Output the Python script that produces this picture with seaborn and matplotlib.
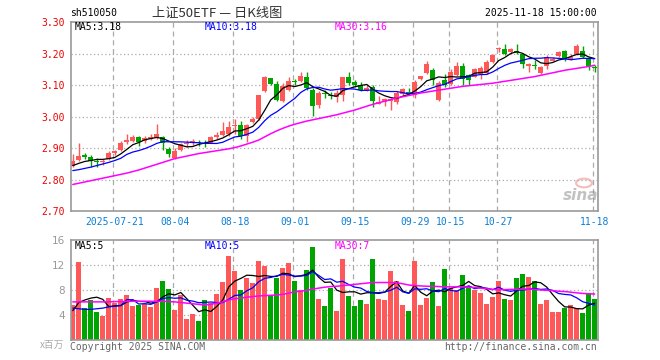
import matplotlib
matplotlib.use("Agg")
import matplotlib.pyplot as plt
import numpy as np
import pandas as pd
import seaborn as sns

# trading days 2025-07-10 .. 2025-11-18 (National Day holiday removed)
days = pd.bdate_range("2025-07-10", "2025-11-18")
days = days[~((days >= "2025-10-01") & (days <= "2025-10-08"))]

open_ = [2.843, 2.864, 2.877, 2.872, 2.860, 2.856, 2.867, 2.885, 2.895, 2.919,
         2.924, 2.935, 2.923, 2.929, 2.932, 2.937, 2.897, 2.868, 2.893, 2.912,
         2.918, 2.921, 2.918, 2.918, 2.935, 2.943, 2.946, 2.969, 2.972, 2.938,
         2.982, 2.993, 3.081, 3.121, 3.102, 3.050, 3.083, 3.113, 3.113, 3.127,
         3.085, 3.038, 3.075, 3.068, 3.062, 3.068, 3.125, 3.109, 3.099, 3.083,
         3.094, 3.041, 3.047, 3.050, 3.045, 3.073, 3.078, 3.069, 3.120, 3.139,
         3.148, 3.053, 3.117, 3.105, 3.133, 3.160, 3.132, 3.127, 3.135, 3.138,
         3.174, 3.214, 3.216, 3.205, 3.208, 3.198, 3.159, 3.165, 3.138, 3.161,
         3.177, 3.193, 3.208, 3.182, 3.198, 3.208, 3.185, 3.158]
high = [2.881, 2.918, 2.884, 2.879, 2.869, 2.866, 2.891, 2.895, 2.922, 2.945,
        2.943, 2.940, 2.940, 2.945, 2.976, 2.940, 2.905, 2.900, 2.918, 2.926,
        2.930, 2.926, 2.925, 2.940, 2.950, 2.984, 2.986, 2.993, 2.985, 2.978,
        3.000, 3.070, 3.130, 3.122, 3.113, 3.108, 3.125, 3.120, 3.143, 3.140,
        3.090, 3.080, 3.085, 3.078, 3.086, 3.127, 3.140, 3.115, 3.110, 3.100,
        3.100, 3.066, 3.060, 3.060, 3.080, 3.090, 3.090, 3.115, 3.130, 3.175,
        3.155, 3.112, 3.135, 3.150, 3.172, 3.170, 3.135, 3.155, 3.160, 3.180,
        3.200, 3.220, 3.230, 3.218, 3.230, 3.200, 3.170, 3.180, 3.160, 3.195,
        3.190, 3.207, 3.210, 3.200, 3.230, 3.225, 3.190, 3.165]
low = [2.840, 2.858, 2.867, 2.840, 2.840, 2.846, 2.862, 2.880, 2.891, 2.912,
       2.920, 2.908, 2.916, 2.925, 2.930, 2.895, 2.873, 2.866, 2.890, 2.905,
       2.910, 2.908, 2.905, 2.915, 2.930, 2.940, 2.940, 2.946, 2.930, 2.920,
       2.980, 2.990, 3.078, 3.100, 3.050, 3.045, 3.080, 3.100, 3.110, 3.085,
       3.002, 3.028, 3.060, 3.055, 3.045, 3.050, 3.100, 3.095, 3.080, 3.080,
       3.030, 3.040, 3.035, 3.022, 3.040, 3.070, 3.070, 3.060, 3.115, 3.134,
       3.100, 3.050, 3.095, 3.100, 3.130, 3.100, 3.100, 3.125, 3.120, 3.135,
       3.170, 3.205, 3.195, 3.200, 3.200, 3.155, 3.140, 3.150, 3.135, 3.150,
       3.175, 3.190, 3.175, 3.180, 3.195, 3.185, 3.148, 3.140]
close = [2.860, 2.874, 2.872, 2.860, 2.856, 2.861, 2.886, 2.890, 2.917, 2.927,
         2.935, 2.921, 2.933, 2.937, 2.945, 2.917, 2.881, 2.891, 2.914, 2.918,
         2.923, 2.915, 2.913, 2.935, 2.943, 2.956, 2.967, 2.972, 2.939, 2.975,
         2.993, 3.068, 3.126, 3.104, 3.053, 3.098, 3.112, 3.110, 3.128, 3.090,
         3.035, 3.076, 3.071, 3.065, 3.076, 3.125, 3.107, 3.100, 3.086, 3.092,
         3.050, 3.046, 3.057, 3.057, 3.076, 3.088, 3.074, 3.110, 3.128, 3.168,
         3.116, 3.108, 3.100, 3.143, 3.161, 3.119, 3.116, 3.150, 3.153, 3.172,
         3.195, 3.219, 3.198, 3.216, 3.203, 3.166, 3.166, 3.162, 3.156, 3.190,
         3.184, 3.206, 3.182, 3.190, 3.224, 3.190, 3.161, 3.155]
# moving averages as drawn where the window reaches back before the first day
ma5_head = [2.845, 2.852, 2.858, 2.861]
ma10_head = [2.829, 2.832, 2.836, 2.840, 2.845, 2.850, 2.855, 2.861, 2.868]
ma30_price = [2.785, 2.789, 2.793, 2.797, 2.801, 2.805, 2.809, 2.813, 2.817, 2.821,
              2.826, 2.831, 2.837, 2.843, 2.849, 2.855, 2.861, 2.867, 2.871, 2.875,
              2.879, 2.883, 2.886, 2.889, 2.892, 2.895, 2.898, 2.902, 2.907, 2.913,
              2.919, 2.926, 2.936, 2.946, 2.955, 2.963, 2.970, 2.976, 2.981, 2.986,
              2.990, 2.994, 2.998, 3.002, 3.006, 3.011, 3.016, 3.021, 3.027, 3.033,
              3.039, 3.044, 3.049, 3.054, 3.059, 3.063, 3.067, 3.071, 3.075, 3.078,
              3.081, 3.084, 3.087, 3.090, 3.093, 3.096, 3.098, 3.100, 3.102, 3.104,
              3.106, 3.109, 3.112, 3.115, 3.118, 3.121, 3.124, 3.127, 3.131, 3.135,
              3.139, 3.143, 3.147, 3.150, 3.153, 3.156, 3.159, 3.163]
# volume, millions
volume = [5.65, 12.5, 5.2, 6.4, 4.5, 3.9, 6.7, 5.9, 6.6, 7.2,
          5.5, 5.65, 5.8, 5.3, 8.3, 9.4, 8.2, 4.85, 7.25, 3.35,
          4.15, 3.05, 6.4, 5.85, 7.4, 9.3, 13.5, 11.05, 8.0, 10.0,
          9.05, 12.7, 11.85, 7.25, 10.0, 11.6, 12.3, 9.5, 8.0, 11.2,
          14.9, 6.55, 5.45, 8.3, 4.7, 13.0, 7.1, 5.45, 6.45, 5.8,
          13.0, 6.55, 6.45, 11.1, 9.5, 5.65, 4.7, 12.7, 5.65, 6.7,
          9.35, 5.5, 11.4, 8.3, 8.0, 10.45, 8.7, 8.05, 7.5, 5.75,
          6.9, 9.5, 6.55, 6.45, 9.9, 10.6, 10.1, 9.4, 5.8, 6.45,
          4.55, 4.55, 5.15, 5.65, 5.2, 4.35, 7.6, 6.6]
vma5_head = [4.7, 6.0, 6.4, 6.7]
vma10_head = [5.1, 5.0, 4.9, 4.9, 5.0, 5.1, 5.3, 5.4, 5.5]
ma30_vol = [6.1, 6.1, 6.1, 6.1, 6.1, 6.1, 6.1, 6.15, 6.15, 6.15,
            6.2, 6.2, 6.2, 6.2, 6.2, 6.2, 6.15, 6.1, 6.0, 5.9,
            5.8, 5.7, 5.6, 5.7, 5.9, 6.1, 6.4, 6.6, 6.7, 6.85,
            6.95, 7.05, 7.1, 7.15, 7.2, 7.3, 7.5, 7.7, 7.8, 7.95,
            8.15, 8.3, 8.45, 8.55, 8.6, 8.7, 8.8, 8.9, 9.0, 9.1,
            9.2, 9.2, 9.2, 9.2, 9.15, 9.0, 8.8, 8.7, 8.65, 8.6,
            8.6, 8.55, 8.5, 8.5, 8.5, 8.5, 8.45, 8.4, 8.3, 8.2,
            8.1, 8.05, 8.05, 8.1, 8.1, 8.15, 8.15, 8.1, 8.0, 7.95,
            7.9, 7.8, 7.75, 7.65, 7.55, 7.45, 7.4, 7.35]

tick_dates = ["2025-07-21", "2025-08-04", "2025-08-18", "2025-09-01", "2025-09-15",
              "2025-09-29", "2025-10-15", "2025-10-27", "2025-11-18"]
price_ticks = [2.70, 2.80, 2.90, 3.00, 3.10, 3.20, 3.30]
vol_ticks = [4, 8, 12, 16]

RED = "#ff5858"
GREEN = "#00a400"
GRID = "#aaaaaa"
FRAME = "#999999"


def rolling_with_head(s, n, head):
    m = s.rolling(n).mean()
    m.iloc[:len(head)] = head
    return m


df = pd.DataFrame({"date": days, "open": open_, "high": high, "low": low,
                   "close": close, "volume": volume,
                   "ma30": ma30_price, "vma30": ma30_vol})
df["i"] = np.arange(len(df))
df["ma5"] = rolling_with_head(df["close"], 5, ma5_head)
df["ma10"] = rolling_with_head(df["close"], 10, ma10_head)
df["vma5"] = rolling_with_head(df["volume"], 5, vma5_head)
df["vma10"] = rolling_with_head(df["volume"], 10, vma10_head)
up = df["close"] >= df["open"]
colors = np.where(up, RED, GREEN)

sns.set_style("white")
plt.rcParams["font.family"] = ["DejaVu Sans Mono", "Noto Sans CJK SC"]

fig = plt.figure(figsize=(6.6, 3.6), dpi=100)
W, H = 660, 360


def box(l, t, r, b):
    return [l / W, 1 - b / H, (r - l) / W, (b - t) / H]


ax = fig.add_axes(box(70.7, 22, 597.7, 211.3))
axv = fig.add_axes(box(70.7, 240, 597.7, 340))

tick_idx = [int(np.where(df["date"] == pd.Timestamp(d))[0][0]) for d in tick_dates]

# candles
ax.vlines(df["i"], df["low"], df["high"], colors=colors, linewidth=1)
body_lo = np.minimum(df["open"], df["close"])
body_h = np.maximum((df["close"] - df["open"]).abs(), 0.0015)
ax.bar(df["i"], body_h, bottom=body_lo, width=0.8, color=colors, linewidth=0)

sns.lineplot(data=df, x="i", y="ma5", ax=ax, color="black", linewidth=0.9)
sns.lineplot(data=df, x="i", y="ma10", ax=ax, color="#0000ff", linewidth=0.9)
sns.lineplot(data=df, x="i", y="ma30", ax=ax, color="#ff00ff", linewidth=1.1)

axv.bar(df["i"], df["volume"], width=0.8, color=colors, linewidth=0)
sns.lineplot(data=df, x="i", y="vma5", ax=axv, color="black", linewidth=0.9)
sns.lineplot(data=df, x="i", y="vma10", ax=axv, color="#0000ff", linewidth=0.9)
sns.lineplot(data=df, x="i", y="vma30", ax=axv, color="#ff00ff", linewidth=1.1)

for a in (ax, axv):
    a.set_xlim(-0.35, 87.5)
    a.set_xlabel("")
    a.set_ylabel("")
    for t in tick_idx:
        a.axvline(t - 0.3, color=GRID, linestyle=(0, (4, 3)), linewidth=0.9, zorder=0)
    for s in a.spines.values():
        s.set_color(FRAME)
        s.set_linewidth(1.2)
    a.tick_params(length=0)

ax.set_ylim(2.70, 3.30)
ax.set_yticks(price_ticks)
ax.set_yticklabels([f"{p:.2f}" for p in price_ticks], color="#ee0000", fontsize=7)
for p in price_ticks[1:-1]:
    ax.axhline(p, color=GRID, linestyle=(0, (1, 2)), linewidth=0.9, zorder=0)
ax.set_xticks(tick_idx)
ax.set_xticklabels([d if k == 0 else d[5:] for k, d in enumerate(tick_dates)],
                   color="#0a7fd8", fontsize=7)
ax.tick_params(axis="x", pad=4)
ax.tick_params(axis="y", pad=4)

axv.set_ylim(0, 16)
axv.set_yticks(vol_ticks)
axv.set_yticklabels([str(v) for v in vol_ticks], color="#999999", fontsize=7.5,
                    family="DejaVu Sans")
for v in vol_ticks[:-1]:
    axv.axhline(v, color=GRID, linestyle=(0, (1, 2)), linewidth=0.9, zorder=0)
axv.set_xticks([])
axv.tick_params(axis="y", pad=4)

last = df.iloc[-1]


def ftext(x, y, s, **kw):
    fig.text(x / W, 1 - y / H, s, va="center", **kw)


ftext(70, 13, "sh510050", fontsize=7, color="black")
ftext(217, 13, "上证50ETF — 日K线图", fontsize=9.5, color="#333333", ha="center",
      family=["Noto Sans CJK SC", "DejaVu Sans"])
ftext(597, 13, f"{last['date']:%Y-%m-%d} 15:00:00", fontsize=7, color="black", ha="right")
ftext(75, 27, f"MA5:{last['ma5']:.2f}", fontsize=7, color="black")
ftext(205, 27, f"MA10:{last['ma10']:.2f}", fontsize=7, color="#0000ff")
ftext(335, 27, f"MA30:{last['ma30']:.2f}", fontsize=7, color="#ff00ff")
ftext(75, 246, f"MA5:{int(last['vma5'])}", fontsize=7, color="black")
ftext(205, 246, f"MA10:{int(last['vma10'])}", fontsize=7, color="#0000ff")
ftext(335, 246, f"MA30:{int(last['vma30'])}", fontsize=7, color="#ff00ff")
ftext(64, 345, "x百万", fontsize=7, color="#aaaaaa", ha="right",
      family=["Noto Sans CJK SC", "DejaVu Sans"])
ftext(70, 347, "Copyright 2025 SINA.COM", fontsize=7, color="#666666")
ftext(597, 347, "http://finance.sina.com.cn", fontsize=7, color="#666666", ha="right")
ftext(581, 196, "sina", fontsize=11, color="#999999", ha="center", style="italic",
      weight="bold", alpha=0.6, family="DejaVu Sans")
fig.patches.append(plt.Circle((584 / W, 1 - 183 / H), 0.012, transform=fig.transFigure,
                              facecolor="none", edgecolor="#f2a0a0", linewidth=1.5, alpha=0.7))

fig.savefig("out.png", dpi=100)
plt.close(fig)
